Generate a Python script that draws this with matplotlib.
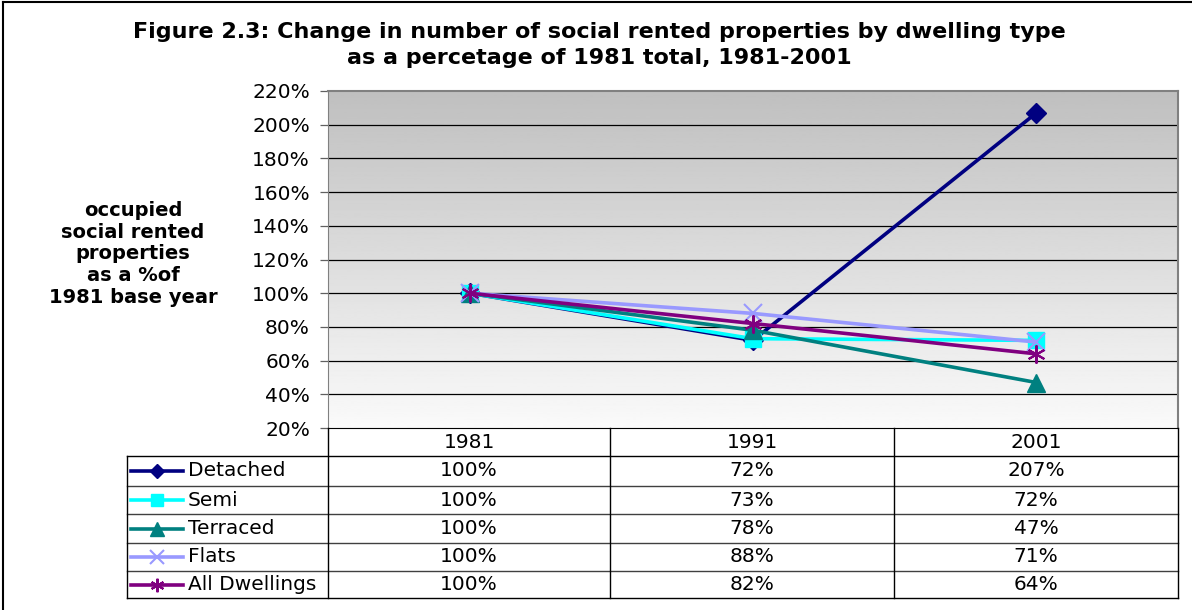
import matplotlib
matplotlib.use("Agg")
import matplotlib.pyplot as plt
from matplotlib.lines import Line2D
import numpy as np

plt.rcParams['font.family'] = ['DejaVu Sans']

years = ["1981", "1991", "2001"]
series_names = ["Detached", "Semi", "Terraced", "Flats", "All Dwellings"]
detached = [100, 72, 207]
semi = [100, 73, 72]
terraced = [100, 78, 47]
flats = [100, 88, 71]
all_dwellings = [100, 82, 64]
series_values = [detached, semi, terraced, flats, all_dwellings]
yticks = [20, 40, 60, 80, 100, 120, 140, 160, 180, 200, 220]

colors = ["#000080", "#00FFFF", "#008080", "#9999FF", "#800080"]
markers = ["D", "s", "^", "x", (6, 2, 0)]
msizes = [10, 11, 13, 13, 13]
medges = [1, 1, 1, 1.5, 1.5]

W, H = 1192, 610
fig = plt.figure(figsize=(W / 100, H / 100), dpi=100)

def fx(px):
    return px / W

def fy(py):
    return 1 - py / H

# plot area in pixels
L, R, T, B = 328, 1178, 91, 428
ax = fig.add_axes([fx(L), fy(B), fx(R) - fx(L), fy(T) - fy(B)])

# gradient background
grad = np.linspace(0.98, 0.75, 256).reshape(-1, 1)
ax.imshow(grad, cmap="gray", vmin=0, vmax=1, aspect="auto",
          extent=[0, 1, 0, 1], transform=ax.transAxes, zorder=0, origin="lower")

ax.set_xlim(-0.5, 2.5)
ax.set_ylim(20, 220)
ax.set_yticks(yticks)
ax.set_yticklabels([f"{v}%" for v in yticks], fontsize=14.5)
ax.set_xticks([])
for v in yticks[1:-1]:
    ax.axhline(v, color="black", lw=0.9, zorder=1)
for s in ["top", "right"]:
    ax.spines[s].set_color("#808080")
    ax.spines[s].set_linewidth(1.5)
ax.spines["left"].set_color("#808080")
ax.spines["bottom"].set_color("black")
ax.tick_params(axis="y", length=6, width=0.9, color="#606060", pad=7)

x = np.arange(len(years))
for name, vals, c, m, ms, me in zip(series_names, series_values, colors, markers, msizes, medges):
    ax.plot(x, vals, color=c, lw=2.6, marker=m, markersize=ms, markeredgewidth=me,
            markerfacecolor=c, markeredgecolor=c, zorder=3, clip_on=False)

# title
fig.text(fx(599), fy(32), "Figure 2.3: Change in number of social rented properties by dwelling type",
         ha="center", va="center", fontsize=16, fontweight="bold")
fig.text(fx(599), fy(58), "as a percetage of 1981 total, 1981-2001",
         ha="center", va="center", fontsize=16, fontweight="bold")

# y label
fig.text(fx(133), fy(254), "occupied\nsocial rented\nproperties\nas a %of\n1981 base year",
         ha="center", va="center", fontsize=14, fontweight="bold", linespacing=1.18)

# data table
tleft = 127
col_edges = [L, 610, 894, R]
row_edges = [456, 486, 514, 543, 571, 598]

def hline(y, x0, x1, color="black", lw=1.0):
    fig.add_artist(Line2D([fx(x0), fx(x1)], [fy(y), fy(y)], color=color, lw=lw))

def vline(xp, y0, y1, color="black", lw=1.0):
    fig.add_artist(Line2D([fx(xp), fx(xp)], [fy(y0), fy(y1)], color=color, lw=lw))

for i, y in enumerate(row_edges):
    hline(y, tleft, R, color="black" if i in (0, len(row_edges) - 1) else "#404040")
vline(tleft, row_edges[0], row_edges[-1])
for xe in col_edges:
    vline(xe, B, row_edges[-1])

for j, yr in enumerate(years):
    cx = (col_edges[j] + col_edges[j + 1]) / 2
    fig.text(fx(cx), fy((B + row_edges[0]) / 2), yr, ha="center", va="center", fontsize=14.5)

for i, (name, vals, c, m, ms, me) in enumerate(zip(series_names, series_values, colors, markers, msizes, medges)):
    cy = (row_edges[i] + row_edges[i + 1]) / 2
    fig.add_artist(Line2D([fx(131), fx(183)], [fy(cy), fy(cy)], color=c, lw=2.6))
    fig.add_artist(Line2D([fx(157)], [fy(cy)], color=c, marker=m, markersize=ms * 0.75,
                          markeredgewidth=me, markerfacecolor=c, markeredgecolor=c))
    fig.text(fx(188), fy(cy), name, ha="left", va="center", fontsize=14.5)
    for j, v in enumerate(vals):
        cx = (col_edges[j] + col_edges[j + 1]) / 2
        fig.text(fx(cx), fy(cy), f"{v}%", ha="center", va="center", fontsize=14.5)

# outer frame (top and left only)
fig.add_artist(Line2D([fx(3), fx(W)], [fy(2), fy(2)], color="black", lw=1.5))
fig.add_artist(Line2D([fx(3), fx(3)], [fy(2), fy(H)], color="black", lw=1.5))

fig.savefig("out.png", dpi=100)
